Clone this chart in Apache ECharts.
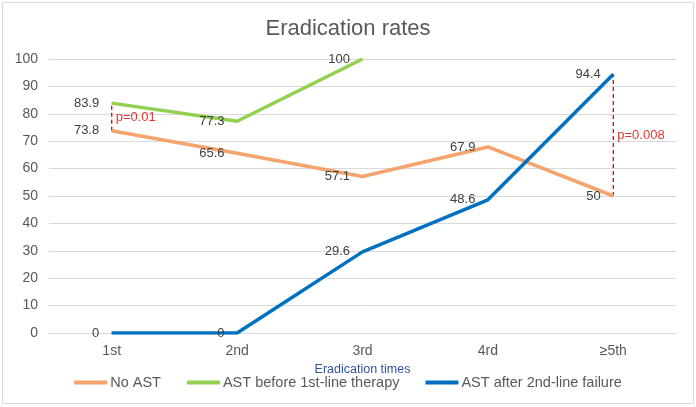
<!DOCTYPE html>
<html><head><meta charset="utf-8">
<script src="https://cdn.jsdelivr.net/npm/echarts@6/dist/echarts.min.js"></script>
<style>html,body{margin:0;padding:0;background:#fff}#c{width:696px;height:407px}</style>
</head><body><div id="c"></div>
<script>
const categories = ['1st', '2nd', '3rd', '4rd', '≥5th'];
const noAST = [73.8, 65.6, 57.1, 67.9, 50];
const astBefore = [83.9, 77.3, 100, null, null];
const astAfter = [0, 0, 29.6, 48.6, 94.4];
const seriesNames = ['No AST', 'AST before 1st-line therapy', 'AST after 2nd-line failure'];
const pLabels = ['p=0.01', 'p=0.008'];
const pPairs = [
  { cat: '1st', low: 73.8, high: 83.9 },
  { cat: '≥5th', low: 50, high: 94.4 }
];
const colors = ['#F4A46C', '#92D050', '#0070C0'];
const font = 'Liberation Sans, Arial, sans-serif';

const chart = echarts.init(document.getElementById('c'));
function lineSeries(name, data, color) {
  return {
    name, type: 'line', data, symbol: 'circle', symbolSize: 1, showSymbol: true, color,
    itemStyle: { color },
    lineStyle: { width: 3.5, color },
    label: { show: true, position: 'left', distance: 12, color: '#404040', fontSize: 13, fontFamily: font },
    z: 3
  };
}
chart.setOption({
  animation: false,
  color: colors,
  title: { text: 'Eradication rates', left: 'center', top: 13, textStyle: { color: '#595959', fontSize: 22, fontWeight: 'normal', fontFamily: font } },
  graphic: [{ type: 'rect', shape: { x: 2.5, y: 2.5, width: 691, height: 401 }, style: { fill: 'none', stroke: '#d9d9d9', lineWidth: 1 }, silent: true }],
  grid: { left: 49, right: 20, top: 59, bottom: 74 },
  legend: {
    data: seriesNames, bottom: 12, left: 'center', itemWidth: 33, itemHeight: 4, itemGap: 26, icon: 'rect',
    textStyle: { color: '#595959', fontSize: 14.5, fontFamily: font, padding: [0, 0, 0, -2] }
  },
  xAxis: {
    type: 'category', data: categories, boundaryGap: true,
    name: 'Eradication times', nameLocation: 'middle', nameGap: 18,
    nameTextStyle: { color: '#2F55A0', fontSize: 12.5, fontFamily: font },
    axisLine: { lineStyle: { color: '#d9d9d9' } }, axisTick: { show: false },
    axisLabel: { color: '#595959', fontSize: 14, fontFamily: font, margin: 11 }
  },
  yAxis: {
    type: 'value', min: 0, max: 100, interval: 10,
    axisLine: { show: false }, axisTick: { show: false },
    axisLabel: { color: '#595959', fontSize: 14, fontFamily: font, margin: 11 },
    splitLine: { lineStyle: { color: '#d9d9d9' } }
  },
  series: [
    lineSeries(seriesNames[0], noAST, colors[0]),
    lineSeries(seriesNames[1], astBefore, colors[1]),
    lineSeries(seriesNames[2], astAfter, colors[2]),
    ...pPairs.map((p, i) => ({
      name: 'pline' + i, type: 'line', symbol: 'none', silent: true,
      data: [[p.cat, p.low], [p.cat, p.high]],
      lineStyle: { color: '#E00000', width: 1.3, type: [4, 3] }, z: 2
    })),
    {
      name: 'plabels', type: 'scatter', symbolSize: 0, silent: true,
      data: pPairs.map((p, i) => ({ value: [p.cat, (p.low + p.high) / 2], label: { formatter: pLabels[i] } })),
      label: { show: true, position: 'right', distance: 4, color: '#E00000', fontSize: 13, fontFamily: font }
    }
  ]
});
</script></body></html>
